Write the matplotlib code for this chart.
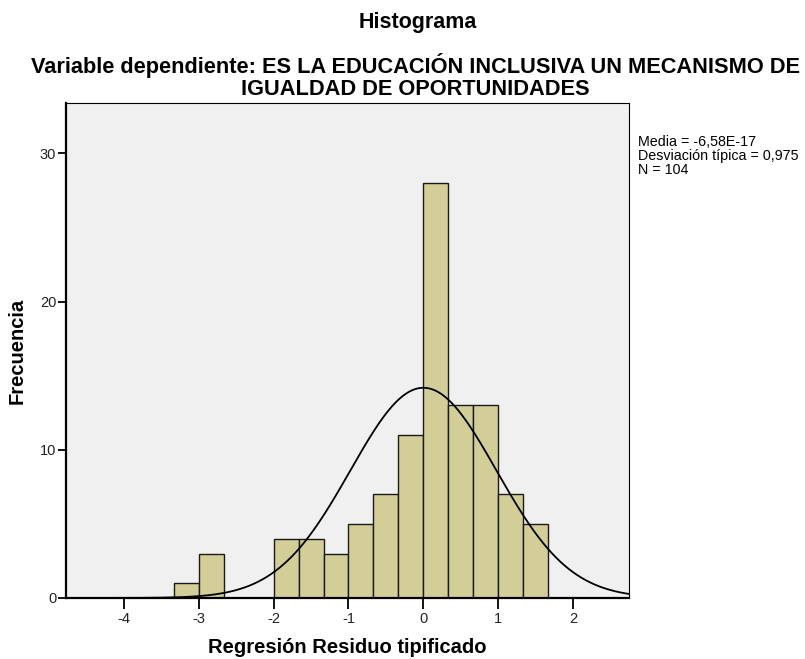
import numpy as np
from matplotlib import pyplot as plt

plt.rcParams['font.family'] = ['Liberation Sans', 'DejaVu Sans']

# Histogram data: bin edges in steps of 1/3, counts per bin
bin_edges = np.arange(-10, 6) / 3.0
counts = [1, 3, 0, 0, 4, 4, 3, 5, 7, 11, 28, 13, 13, 7, 5]
media = 0.0
desv = 0.975
n_total = 104
stats_lines = ['Media = -6,58E-17', 'Desviación típica = 0,975', 'N = 104']
xticks = [-4, -3, -2, -1, 0, 1, 2]
yticks = [0, 10, 20, 30]

fig = plt.figure(figsize=(8.05, 6.59), dpi=100)
ax = fig.add_axes([0.082, 0.0926, 0.699, 0.7511])
ax.set_facecolor('#f0f0f0')

widths = np.diff(bin_edges)
ax.bar(bin_edges[:-1], counts, width=widths, align='edge',
       color='#d3ce97', edgecolor='#1a1a1a', linewidth=1.0, zorder=2)

# normal curve scaled to counts
xs = np.linspace(-4.8, 2.8, 400)
bw = widths[0]
ys = n_total * bw / (desv * np.sqrt(2 * np.pi)) * np.exp(-0.5 * ((xs - media) / desv) ** 2)
ax.plot(xs, ys, color='black', linewidth=1.3, zorder=3)

ax.set_xlim(-4.77, 2.74)
ax.set_ylim(0, 33.4)
ax.set_xticks(xticks)
ax.set_xticklabels([str(t) for t in xticks])
ax.set_yticks(yticks)
ax.tick_params(direction='out', length=8, width=1.3, labelsize=10.5, colors='black',
               labelcolor='#222222')
ax.tick_params(axis='y', length=6, pad=1)
ax.tick_params(axis='x', pad=2)
for s in ['left', 'bottom']:
    ax.spines[s].set_linewidth(1.6)
for s in ['top', 'right']:
    ax.spines[s].set_linewidth(0.8)

ax.set_xlabel('Regresión Residuo tipificado', fontsize=14.5, fontweight='bold', labelpad=9)
fig.text(0.021, 0.468, 'Frecuencia', rotation=90, ha='center', va='center',
         fontsize=14.5, fontweight='bold')

fig.text(0.519, 0.966, 'Histograma', ha='center', va='center', fontsize=15.5, fontweight='bold')
fig.text(0.516, 0.884, 'Variable dependiente: ES LA EDUCACIÓN INCLUSIVA UN MECANISMO DE\nIGUALDAD DE OPORTUNIDADES',
         ha='center', va='center', fontsize=15.7, fontweight='bold', linespacing=1.08)

fig.text(0.792, 0.795, '\n'.join(stats_lines), ha='left', va='top', fontsize=10.3, linespacing=1.0)

fig.savefig('out.png', dpi=100)
